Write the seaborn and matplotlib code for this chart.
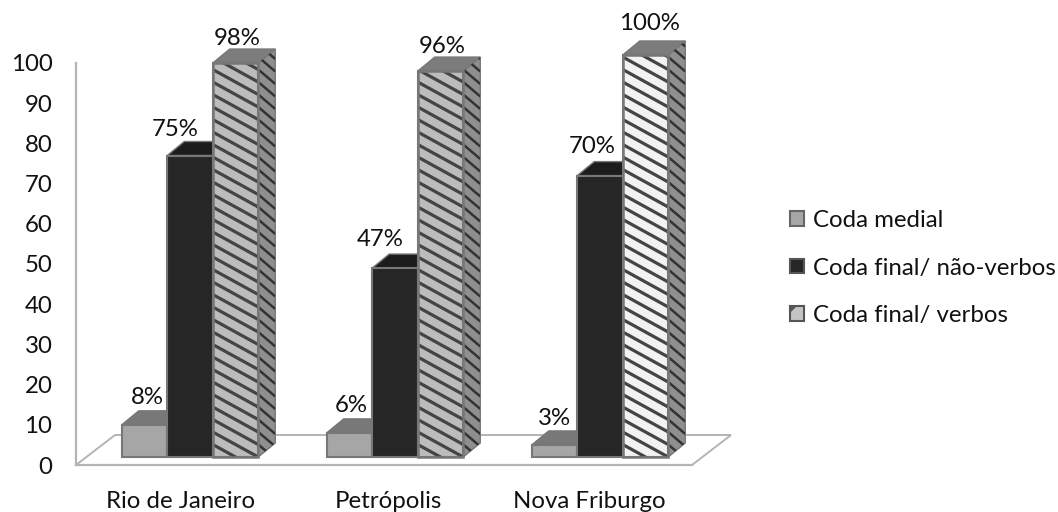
import numpy as np
import pandas as pd
import matplotlib
matplotlib.use('Agg')
import matplotlib.pyplot as plt
from matplotlib.patches import Polygon, Patch
import seaborn as sns

cidades = ['Rio de Janeiro', 'Petrópolis', 'Nova Friburgo']
tipos = ['Coda medial', 'Coda final/ não-verbos', 'Coda final/ verbos']
medial = [8, 6, 3]
nao_verbos = [75, 47, 70]
verbos = [98, 96, 100]
yticks = list(range(0, 101, 10))

# label shift from bar top centre, in pixels
label_dx = [[3, 2, 0], [-15, -15, -8], [2, 2, 4]]
label_dy = [[27, 27, 26], [26, 29, 29], [25, 25, 32]]

W, H = 1058, 512
PX_Y = 4.02
PX_X = 205.0
DX, DY = 17 / PX_X, 14 / PX_Y
FS = 17.3

df = pd.DataFrame({
    'cidade': cidades * 3,
    'tipo': [t for t in tipos for _ in cidades],
    'pct': medial + nao_verbos + verbos,
})

sns.set_style('white')
plt.rcParams['font.family'] = ['Lato', 'DejaVu Sans']
plt.rcParams['hatch.linewidth'] = 3

fig = plt.figure(figsize=(W / 100, H / 100), dpi=100)

# y axis and floor
ax0 = fig.add_axes([76 / W, (H - 465) / H, 616 / W, 402 / H], zorder=0)
ax0.set_xlim(0, 3)
ax0.set_ylim(0, 100)
ax0.set_yticks(yticks)
ax0.set_xticks([0.511, 1.52, 2.50])
ax0.set_xticklabels(cidades)
ax0.tick_params(axis='y', length=0, pad=17, labelsize=FS, labelcolor='#111111')
ax0.tick_params(axis='x', length=0, pad=18.5, labelsize=FS, labelcolor='#111111')
for s in ['top', 'right']:
    ax0.spines[s].set_visible(False)
for s in ['left', 'bottom']:
    ax0.spines[s].set_color('#b4b4b4')
    ax0.spines[s].set_linewidth(1.6)
ax0.add_patch(Polygon([(0, 0), (1, 0), (1 + 39 / 616, 30 / 402), (39 / 616, 30 / 402)],
                      closed=True, transform=ax0.transAxes, fc='white', ec='#b4b4b4',
                      lw=1.4, clip_on=False))

# bars
ax = fig.add_axes([87.5 / W, (H - 457) / H, 615 / W, 110 * PX_Y / H], zorder=1)
ax.patch.set_alpha(0)
sns.barplot(data=df, x='cidade', y='pct', hue='tipo', order=cidades, hue_order=tipos,
            palette=['#a6a6a6', '#262626', '#bcbcbc'], width=0.666, gap=0, saturation=1,
            legend=False, ax=ax, edgecolor='#777777', linewidth=1.5)
ax.set_xlim(-0.5, 2.5)
ax.set_ylim(0, 110)
ax.axis('off')


def stripes(poly, slope, period, color, lw, z):
    # diagonal lines clipped to a face, slope and period in pixels
    pts = np.array(poly.get_xy())
    x0, x1 = pts[:, 0].min(), pts[:, 0].max()
    y0, y1 = pts[:, 1].min(), pts[:, 1].max()
    span = (x1 - x0) * PX_X * slope + (y1 - y0) * PX_Y
    for c in np.arange(0, span + period, period):
        ya = (y0 * PX_Y + c) / PX_Y
        yb = (y0 * PX_Y + c - (x1 - x0) * PX_X * slope) / PX_Y
        line, = ax.plot([x0, x1], [ya, yb], color=color, lw=lw, zorder=z,
                        solid_capstyle='butt')
        line.set_clip_path(poly)


tops = ['#787878', '#1c1c1c', '#7c7c7c']
sides = ['#808080', '#1e1e1e', '#8f8f8f']
for i, cont in enumerate(ax.containers):
    for j, bar in enumerate(cont):
        x, w, h = bar.get_x(), bar.get_width(), bar.get_height()
        z = 2 + 3 * i
        top = Polygon([(x, h), (x + w, h), (x + w + DX, h + DY), (x + DX, h + DY)], closed=True,
                      fc=tops[i], ec='#777777', lw=1, zorder=z, clip_on=False)
        side = Polygon([(x + w, 0), (x + w + DX, DY), (x + w + DX, h + DY), (x + w, h)], closed=True,
                       fc=sides[i], ec='#777777', lw=1, zorder=z, clip_on=False)
        ax.add_patch(side)
        ax.add_patch(top)
        bar.set_zorder(z + 1)
        bar.set_clip_on(False)
        if i == 2:
            if j == 2:
                bar.set_facecolor('#f2f2f2')
            front = Polygon(bar.get_corners(), closed=True, fc='none', ec='none')
            ax.add_patch(front)
            stripes(front, 0.55, 12.5, '#444444', 2.3, z + 1.5)
            stripes(side, 0.85, 12.5, '#333333', 1.8, z + 0.5)
            ax.add_patch(Polygon(bar.get_corners(), closed=True, fc='none', ec='#777777',
                                 lw=1.8, zorder=z + 2, clip_on=False))
        ax.annotate(f'{int(h)}%', (x + w / 2, h), xytext=(label_dx[i][j], label_dy[i][j]),
                    textcoords='offset pixels', ha='center', va='center', fontsize=FS,
                    color='#111111', zorder=20, annotation_clip=False)

handles = [Patch(fc='#a6a6a6', ec='#666666', lw=1.5),
           Patch(fc='#262626', ec='#555555', lw=1.5),
           Patch(fc='#c4c4c4', ec='#555555', lw=1.5, hatch='/')]
fig.legend(handles, tipos, loc='center left', bbox_to_anchor=(790 / W, (H - 268) / H),
           frameon=False, fontsize=FS, handlelength=0.58, handleheight=0.58,
           handletextpad=0.37, labelspacing=1.1, borderpad=0, borderaxespad=0,
           labelcolor='#111111')

fig.savefig('out.png', dpi=100)
